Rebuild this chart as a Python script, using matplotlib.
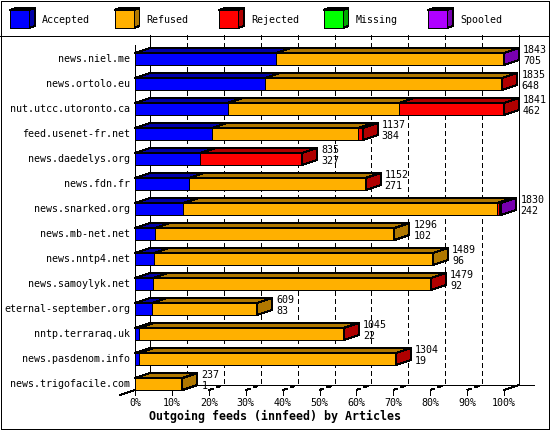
import matplotlib
matplotlib.use("Agg")
import matplotlib.pyplot as plt
from matplotlib.patches import Polygon, Rectangle

# ---- data ----
feeds = ["news.niel.me", "news.ortolo.eu", "nut.utcc.utoronto.ca", "feed.usenet-fr.net",
         "news.daedelys.org", "news.fdn.fr", "news.snarked.org", "news.mb-net.net",
         "news.nntp4.net", "news.samoylyk.net", "eternal-september.org", "nntp.terraraq.uk",
         "news.pasdenom.info", "news.trigofacile.com"]
total = [1843, 1835, 1841, 1137, 835, 1152, 1830, 1296, 1489, 1479, 609, 1045, 1304, 237]
accepted = [705, 648, 462, 384, 327, 271, 242, 102, 96, 92, 83, 22, 19, 1]
refused = [1136, 1183, 858, 731, 0, 879, 1568, 1194, 1393, 1385, 526, 1019, 1283, 236]
rejected = [0, 4, 521, 22, 508, 2, 8, 0, 0, 2, 0, 4, 2, 0]
missing = [0, 0, 0, 0, 0, 0, 0, 0, 0, 0, 0, 0, 0, 0]
spooled = [2, 0, 0, 0, 0, 0, 12, 0, 0, 0, 0, 0, 0, 0]

series_names = ["Accepted", "Refused", "Rejected", "Missing", "Spooled"]
series = [accepted, refused, rejected, missing, spooled]
face = ["#0000ff", "#ffb000", "#ff0000", "#00ff00", "#b000ff"]
dark = ["#0000a8", "#b07800", "#b00000", "#00a800", "#7800b0"]
ticks = list(range(0, 101, 10))

# ---- layout (pixels) ----
W, H = 550, 430
PX = 369 / 100.0      # pixels per percent
ROW = 25.0            # pixels per row
DX = 15 / PX          # depth offset in percent
DY = -5 / ROW         # depth offset in rows
HALF = 6 / ROW        # half bar height
LW = 0.72

plt.rcParams["font.family"] = ["DejaVu Sans Mono"]
plt.rcParams["font.size"] = 7.2

fig = plt.figure(figsize=(W / 100, H / 100), dpi=100)
fig.patch.set_facecolor("white")

ax = fig.add_axes([135 / W, 1 - 390 / H, 369 / W, 355 / H])
ax.set_xlim(0, 100)
ax.set_ylim((390 - 59) / ROW, (35 - 59) / ROW)
ax.axis("off")

floor_front = len(feeds) - 1 + HALF
floor_back = floor_front + DY
top_back = (35 - 59) / ROW
top_front = (45 - 59) / ROW
dash = (0, (5, 3))

def line(xs, ys, ls="-", z=1):
    ax.plot(xs, ys, color="black", lw=LW, ls=ls, clip_on=False,
            antialiased=False, zorder=z)

# back wall, floor, ticks
for t in ticks:
    ls = "-" if t in (0, 100) else dash
    line([t + DX, t + DX], [top_back, floor_back], ls)
    line([t, t], [floor_front, floor_front - DY])
    line([t, t + DX], [floor_front, floor_back], ls)
    ax.text(t, (403 - 59) / ROW, f"{t}%", ha="center", va="center")
line([DX, 100 + 2 * DX], [floor_back, floor_back])
line([-DX, DX], [floor_front - DY, floor_back])
line([0, 0], [top_front, floor_front - DY])

# bars
vmax = max(total)
for i, name in enumerate(feeds):
    yt, yb = i - HALF, i + HALF
    left = 0.0
    last = None
    for j, s in enumerate(series):
        v = s[i]
        if v <= 0:
            continue
        w = v / vmax * 100
        ax.add_patch(Rectangle((left, yt), w, 2 * HALF, facecolor=face[j],
                               edgecolor="black", lw=LW, clip_on=False,
                               antialiased=False, zorder=3))
        ax.add_patch(Polygon([(left, yt), (left + w, yt), (left + w + DX, yt + DY),
                              (left + DX, yt + DY)], closed=True, facecolor=dark[j],
                             edgecolor="black", lw=LW, clip_on=False,
                             antialiased=False, zorder=3))
        left += w
        last = j
    ax.add_patch(Polygon([(left, yt), (left, yb), (left + DX, yb + DY), (left + DX, yt + DY)],
                         closed=True, facecolor=dark[last], edgecolor="black", lw=LW,
                         clip_on=False, antialiased=False, zorder=3))
    xl = left + DX + 4 / PX
    ax.text(xl, i - 9 / ROW, str(total[i]), ha="left", va="center", zorder=4)
    ax.text(xl, i + 2 / ROW, str(accepted[i]), ha="left", va="center", zorder=4)
    ax.text(-5 / PX, i, name, ha="right", va="center")

fig.text(0.5, 1 - 416 / H, "Outgoing feeds (innfeed) by Articles", ha="center",
         va="center", fontweight="bold", fontsize=8.4)

# frame and legend
fax = fig.add_axes([0, 0, 1, 1], zorder=-1)
fax.set_xlim(0, W)
fax.set_ylim(H, 0)
fax.axis("off")
fax.add_patch(Rectangle((0.5, 0.5), W - 1.5, H - 1.5, fill=False, edgecolor="black",
                        lw=LW, antialiased=False))
fax.plot([0, W], [35.5, 35.5], color="black", lw=LW, antialiased=False)
for i, name in enumerate(series_names):
    x0 = 10 + 104.5 * i
    fax.add_patch(Polygon([(x0, 10), (x0 + 6, 8), (x0 + 25, 8), (x0 + 19, 10)], closed=True,
                          facecolor=dark[i], edgecolor="black", lw=LW, antialiased=False))
    fax.add_patch(Polygon([(x0 + 19, 10), (x0 + 25, 8), (x0 + 25, 26), (x0 + 19, 28)],
                          closed=True, facecolor=dark[i], edgecolor="black", lw=LW,
                          antialiased=False))
    fax.add_patch(Rectangle((x0, 10), 19, 18, facecolor=face[i], edgecolor="black",
                            lw=LW, antialiased=False))
    fax.text(x0 + 32, 20, name, ha="left", va="center")

fig.savefig("out.png", dpi=100)
